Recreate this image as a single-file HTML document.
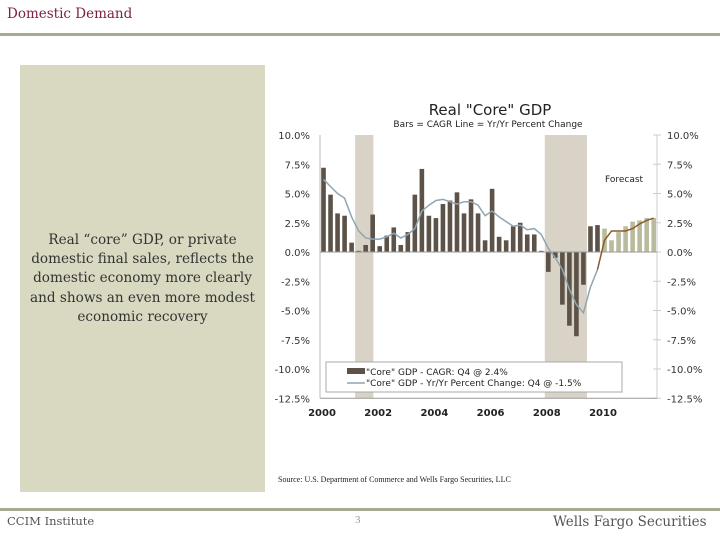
<!DOCTYPE html>
<html><head><meta charset="utf-8"><style>
body{margin:0;width:720px;height:540px;background:#fff;position:relative;overflow:hidden;font-family:"Liberation Serif",serif}
.a{position:absolute;white-space:nowrap}
</style></head><body>
<div class="a" style="left:7px;top:6px;font-size:13.5px;font-family:'DejaVu Serif',serif;color:#7a1f45">Domestic Demand</div>
<div class="a" style="left:0;top:33px;width:720px;height:3px;background:#a7a991"></div>
<div class="a" style="left:20px;top:65px;width:245px;height:427px;background:#d9d9c1"></div>
<div class="a" style="left:20px;top:231px;width:245px;text-align:center;font-size:13.6px;line-height:19.2px;font-family:'DejaVu Serif',serif;color:#333">Real “core” GDP, or private<br>domestic final sales, reflects the<br>domestic economy more clearly<br>and shows an even more modest<br>economic recovery</div>
<div class="a" style="left:278px;top:475px;font-size:8px;color:#222">Source: U.S. Department of Commerce and Wells Fargo Securities, LLC</div>
<div class="a" style="left:0;top:508px;width:720px;height:3px;background:#a7a991"></div>
<div class="a" style="left:7px;top:514px;font-size:11.5px;font-family:'DejaVu Serif',serif;color:#555">CCIM Institute</div>
<div class="a" style="left:355px;top:514px;font-size:11px;color:#999">3</div>
<div class="a" style="left:553px;top:514px;font-size:13.5px;font-family:'DejaVu Serif',serif;color:#555">Wells Fargo Securities</div>
<svg class="a" style="left:0;top:0" width="720" height="540" font-family="'DejaVu Sans',sans-serif">
<g id="g"></g>
</svg>
<script>
const barValues=[7.2,4.9,3.3,3.1, 0.8,0.1,0.6,3.2, 0.5,1.4,2.1,0.6, 1.7,4.9,7.1,3.1, 2.9,4.1,4.4,5.1, 3.3,4.5,3.3,1.0, 5.4,1.3,1.0,2.2, 2.5,1.5,1.5,0.1, -1.7,-0.5,-4.5,-6.3, -7.2,-2.8,2.2,2.3, 2.0,1.0,1.7,2.2, 2.6,2.7,2.9,2.9];
const forecastStart=40;
const yoyValues=[6.2,5.6,5.0,4.6, 3.0,1.8,1.2,1.1, 1.1,1.3,1.6,1.2, 1.5,2.0,3.5,4.0, 4.4,4.5,4.3,4.1, 4.3,4.3,4.0,3.1, 3.5,3.0,2.6,2.2, 2.3,1.9,2.0,1.5, 0.3,-0.5,-1.5,-3.2, -4.5,-5.2,-3.0,-1.5];
const forecastYoy=[-1.5,1.0,1.8,1.8,1.8,2.0,2.4,2.7,2.9];
const yTicks=[10,7.5,5,2.5,0,-2.5,-5,-7.5,-10,-12.5];
const xYears=[2000,2002,2004,2006,2008,2010];
const recessions=[[2001.25,2001.9],[2008.0,2009.5]];
const ns='http://www.w3.org/2000/svg',G=document.getElementById('g');
const X=t=>320+(t-2000)*28.1, Y=v=>252-v*11.7;
const qx=i=>X(2000+(i+0.5)/4);
function mk(tag,at,txt){const e=document.createElementNS(ns,tag);for(const k in at)e.setAttribute(k,at[k]);if(txt!=null)e.textContent=txt;G.appendChild(e);return e;}
recessions.forEach(r=>{const e=mk('rect',{x:X(r[0]),y:Y(10),width:X(r[1])-X(r[0]),height:Y(-12.5)-Y(10),fill:'#d8d3c6'});

});
let e=mk('line',{x1:320,x2:320,y1:Y(10),y2:Y(-12.5),stroke:'#bbb'});


e=mk('line',{x1:657,x2:657,y1:Y(10),y2:Y(-12.5),stroke:'#ccc'});


yTicks.forEach(v=>{const l=(v.toFixed(1))+'%';
e=mk('text',{x:310,y:Y(v)+4,'text-anchor':'end','font-size':10,fill:'#333'},l);


e=mk('line',{x1:653,x2:661,y1:Y(v),y2:Y(v),stroke:'#ccc'});


e=mk('text',{x:667,y:Y(v)+4,'font-size':10,fill:'#333'},l);

});
barValues.forEach((v,i)=>{e=mk('rect',{x:qx(i)-2.3,y:Math.min(Y(v),Y(0)),width:4.6,height:Math.abs(Y(v)-Y(0)),fill:i>=forecastStart?'#b9bb9c':'#5c5248'});

});
e=mk('line',{x1:320,x2:657,y1:Y(0),y2:Y(0),stroke:'#999'});


e=mk('polyline',{points:yoyValues.map((v,i)=>qx(i)+','+Y(v)).join(' '),fill:'none',stroke:'#8fa5b2','stroke-width':1.5});


e=mk('polyline',{points:forecastYoy.map((v,i)=>qx(i+39)+','+Y(v)).join(' '),fill:'none',stroke:'#8b5a2b','stroke-width':1.5});


e=mk('line',{x1:320,x2:657,y1:Y(-12.5),y2:Y(-12.5),stroke:'#999'});


xYears.forEach(yr=>{e=mk('text',{x:X(yr)+2,y:416,'text-anchor':'middle','font-size':10,'font-weight':'bold',fill:'#222'},String(yr));

});
e=mk('text',{x:490,y:115,'text-anchor':'middle','font-size':15,fill:'#222'},'Real "Core" GDP');


e=mk('text',{x:488,y:127,'text-anchor':'middle','font-size':9,fill:'#222'},'Bars = CAGR     Line = Yr/Yr Percent Change');


e=mk('text',{x:605,y:182,'font-size':9,fill:'#222'},'Forecast');


e=mk('rect',{x:326,y:362,width:296,height:30,fill:'#fff',stroke:'#aaa'});


e=mk('rect',{x:347,y:368,width:18,height:6,fill:'#5c5248'});


e=mk('text',{x:366,y:375,'font-size':9,fill:'#222'},'"Core" GDP - CAGR: Q4 @ 2.4%');


e=mk('line',{x1:347,x2:365,y1:383,y2:383,stroke:'#8fa5b2','stroke-width':1.5});


e=mk('text',{x:366,y:386,'font-size':9,fill:'#222'},'"Core" GDP - Yr/Yr Percent Change: Q4 @ -1.5%');


</script>
</body></html>
